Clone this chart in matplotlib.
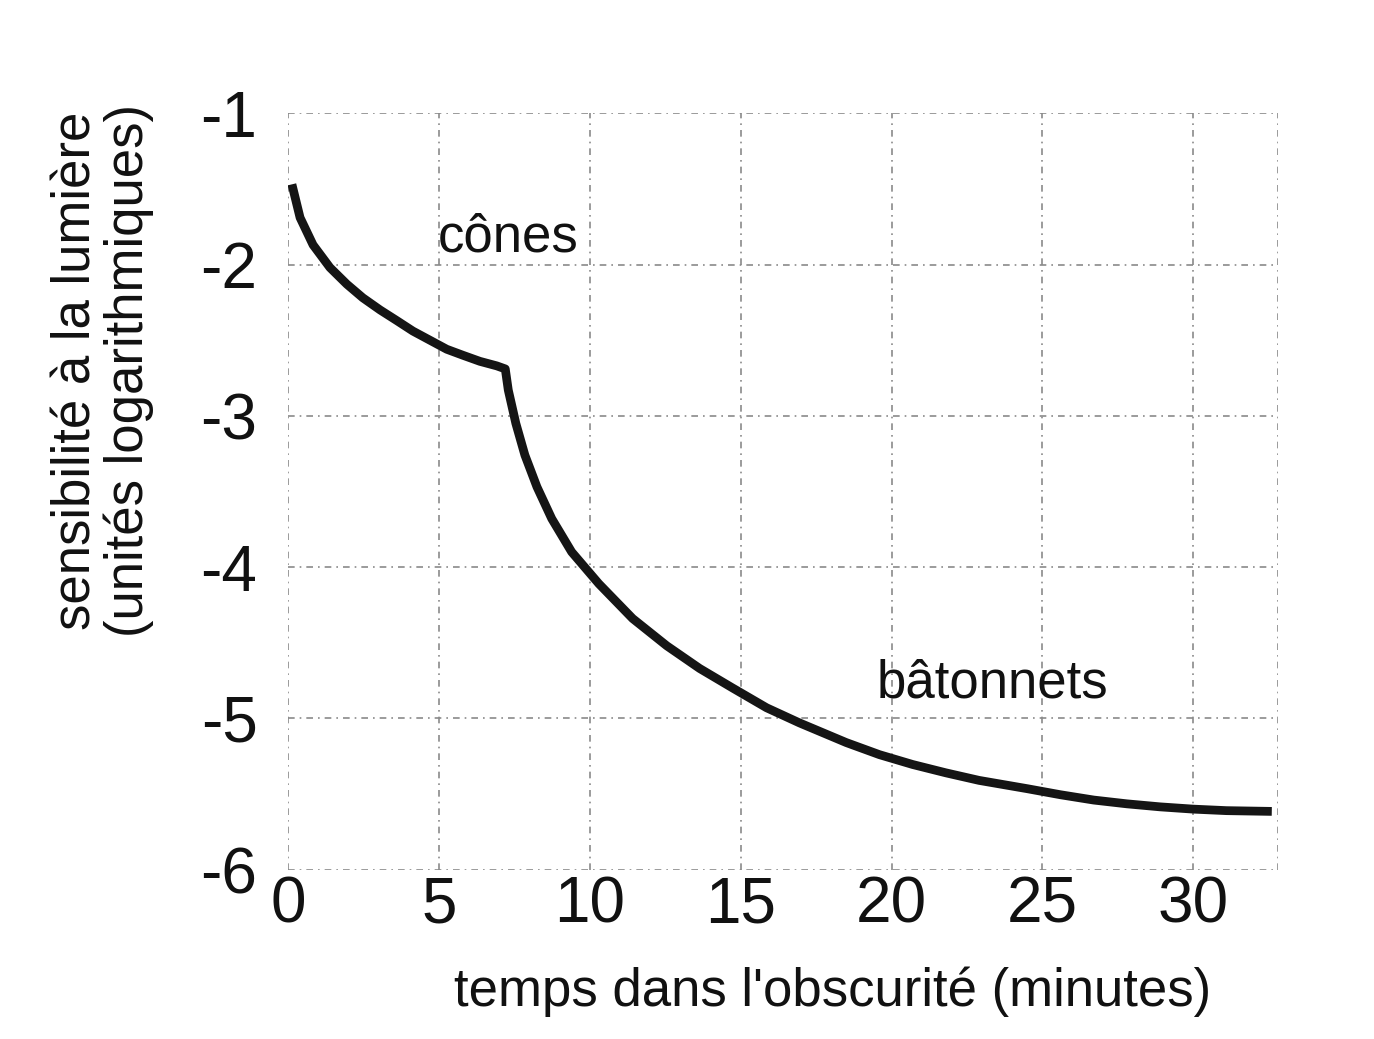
import matplotlib
matplotlib.use('Agg')
import matplotlib.pyplot as plt

plt.rcParams['font.family'] = ['Liberation Sans', 'DejaVu Sans']

# courbe d'adaptation à l'obscurité
temps = [0.13, 0.4, 0.83, 1.39, 1.95, 2.48, 3.05, 3.6, 4.14, 4.7, 5.26, 5.8, 6.36, 6.92, 7.2,
         7.3, 7.55, 7.85, 8.25, 8.74, 9.4, 10.3, 11.42, 12.55, 13.64, 14.74, 15.86, 16.95,
         18.5, 19.6, 20.7, 21.8, 22.9, 24.5, 25.6, 26.7, 27.8, 28.9, 30.0, 31.1, 32.6]
sensibilite = [-1.47, -1.69, -1.87, -2.02, -2.13, -2.22, -2.30, -2.37, -2.44, -2.50, -2.56,
               -2.60, -2.64, -2.67, -2.69,
               -2.83, -3.05, -3.26, -3.47, -3.68, -3.90, -4.11, -4.34, -4.52, -4.67, -4.80,
               -4.93, -5.03, -5.16, -5.24, -5.305, -5.36, -5.41, -5.465, -5.505, -5.54,
               -5.565, -5.585, -5.60, -5.61, -5.615]

x_ticks = [0, 5, 10, 15, 20, 25, 30]
y_ticks = [-1, -2, -3, -4, -5, -6]

fig = plt.figure(figsize=(13.74, 10.39), dpi=100)
ax = fig.add_axes([0.2096, 0.163, 0.7204, 0.728])
ax.set_xlim(0, 32.8)
ax.set_ylim(-6, -1)

# grille pointillée, y compris le cadre
grid_style = dict(color='#8a8a8a', linestyle=(0, (4, 3, 1, 3)), linewidth=1.2, zorder=1)
for xv in x_ticks + [32.8]:
    ax.axvline(xv, **grid_style)
for yv in y_ticks:
    ax.axhline(yv, **grid_style)
for s in ax.spines.values():
    s.set_visible(False)

ax.plot(temps, sensibilite, color='#151515', linewidth=6.3, solid_capstyle='butt',
        solid_joinstyle='round', zorder=3)

ax.set_xticks(x_ticks)
ax.set_yticks(y_ticks)
ax.set_xticklabels([str(v) for v in x_ticks])
ax.set_yticklabels([str(v) for v in y_ticks])
ax.tick_params(length=0, labelsize=46, colors='#111111')
ax.tick_params(axis='x', pad=4)
ax.tick_params(axis='y', pad=22)

ax.set_xlabel("temps dans l'obscurité (minutes)", fontsize=38, color='#111111')
ax.xaxis.set_label_coords(0.55, -0.128)
ax.set_ylabel("sensibilité à la lumière\n(unités logarithmiques)", fontsize=38,
              linespacing=1.05, color='#111111')
ax.yaxis.set_label_coords(-0.135, 0.66)

ax.text(4.97, -1.82, "cônes", fontsize=38, va='center', ha='left', color='#111111')
ax.text(19.5, -4.77, "bâtonnets", fontsize=38, va='center', ha='left', color='#111111')

fig.savefig('out.png', dpi=100, facecolor='white')
